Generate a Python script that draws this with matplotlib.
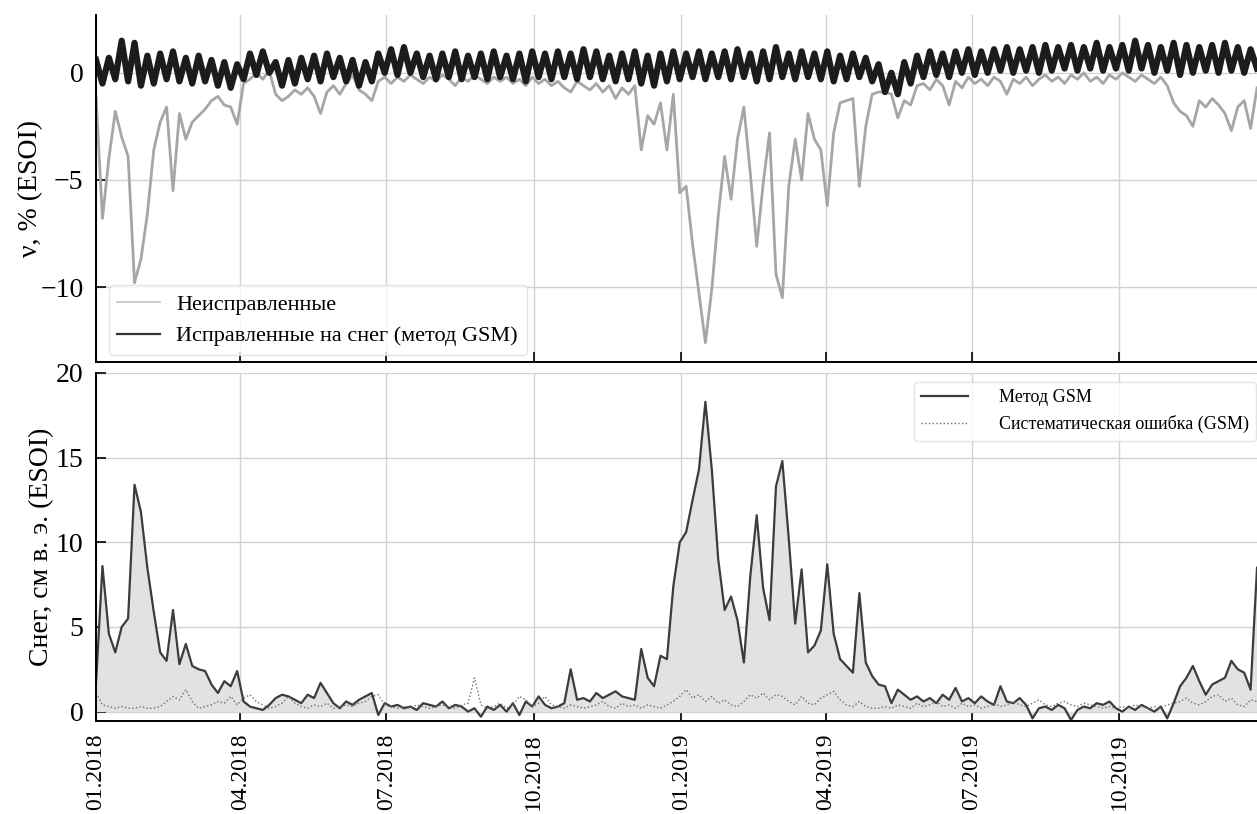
import matplotlib
matplotlib.use("Agg")
import matplotlib.pyplot as plt
import matplotlib.dates as mdates
import pandas as pd

plt.rcParams['font.family'] = ['Liberation Serif', 'DejaVu Serif']
plt.rcParams['mathtext.fontset'] = 'stix'

# 4-day sampling from 01.01.2018
dates = pd.date_range("2018-01-01", periods=182, freq="4D")

# top panel: neutron count deviation, %
uncorrected = [
    -1.1, -6.8, -4.0, -1.8, -3.0, -3.9, -9.8, -8.7, -6.6, -3.6,
    -2.3, -1.6, -5.5, -1.9, -3.1, -2.3, -2.0, -1.7, -1.3, -1.1,
    -1.5, -1.6, -2.4, -0.5, -0.3, 0.0, -0.3, 0.1, -1.0, -1.3,
    -1.1, -0.8, -1.0, -0.7, -1.1, -1.9, -0.9, -0.6, -1.0, -0.5,
    -0.1, -0.8, -1.0, -1.3, -0.4, -0.2, -0.5, -0.2, -0.4, -0.1,
    -0.3, -0.5, -0.2, -0.4, -0.1, -0.3, -0.6, -0.2, -0.4, -0.1,
    -0.3, -0.5, -0.2, -0.4, -0.2, -0.5, -0.3, -0.6, -0.2, -0.5,
    -0.3, -0.6, -0.4, -0.7, -0.9, -0.4, -0.6, -0.8, -0.5, -0.9,
    -0.6, -1.2, -0.7, -1.0, -0.6, -3.6, -2.0, -2.4, -1.4, -3.6,
    -1.0, -5.6, -5.3, -8.0, -10.3, -12.6, -10.1, -6.7, -3.9, -5.9,
    -3.1, -1.6, -4.7, -8.1, -5.2, -2.8, -9.4, -10.5, -5.3, -3.1,
    -5.0, -1.9, -3.1, -3.6, -6.2, -2.8, -1.4, -1.3, -1.2, -5.3,
    -2.5, -1.0, -0.9, -0.9, -1.0, -2.1, -1.3, -1.5, -0.6, -0.5,
    -0.8, -0.3, -0.6, -1.5, -0.4, -0.7, -0.2, -0.5, -0.3, -0.6,
    -0.2, -0.4, -1.0, -0.3, -0.5, -0.2, -0.6, -0.3, -0.1, -0.4,
    -0.2, -0.5, -0.1, -0.3, 0.0, -0.4, -0.2, -0.5, -0.1, -0.3,
    0.0, -0.2, -0.4, -0.1, -0.3, -0.5, -0.2, -0.6, -1.4, -1.8,
    -2.0, -2.5, -1.3, -1.6, -1.2, -1.5, -1.9, -2.7, -1.6, -1.3,
    -2.6, -0.7,
]
corrected = [
    0.6, -0.5, 0.7, -0.3, 1.5, -0.4, 1.4, -0.6, 0.8, -0.5,
    0.9, -0.3, 1.0, -0.4, 0.7, -0.5, 0.8, -0.4, 0.6, -0.6,
    0.5, -0.7, 0.4, -0.3, 0.9, -0.1, 1.0, 0.0, 0.5, -0.6,
    0.6, -0.5, 0.7, -0.3, 0.8, -0.4, 0.9, -0.2, 0.7, -0.4,
    0.6, -0.6, 0.5, -0.4, 0.9, 0.0, 1.1, -0.1, 1.2, 0.0,
    0.9, -0.2, 0.8, -0.3, 0.9, -0.2, 1.0, -0.3, 0.8, -0.2,
    0.9, -0.3, 1.0, -0.2, 0.8, -0.3, 0.9, -0.4, 1.0, -0.2,
    0.9, -0.3, 1.0, -0.2, 0.9, -0.3, 1.1, -0.2, 1.0, -0.3,
    0.8, -0.4, 0.9, -0.3, 1.0, -0.5, 0.8, -0.6, 0.9, -0.4,
    1.0, -0.3, 0.9, -0.2, 1.0, -0.3, 0.9, -0.2, 1.0, -0.3,
    1.1, -0.2, 0.9, -0.4, 1.0, -0.3, 1.2, -0.2, 0.9, -0.3,
    1.0, -0.2, 0.9, -0.3, 1.0, -0.4, 0.8, -0.3, 0.9, -0.2,
    0.7, -0.4, 0.4, -0.9, 0.0, -1.0, 0.5, -0.5, 0.8, -0.2,
    1.0, -0.1, 0.9, -0.2, 1.0, 0.0, 1.1, -0.1, 1.0, 0.0,
    1.1, 0.1, 1.2, 0.0, 1.1, 0.1, 1.2, 0.0, 1.3, 0.1,
    1.2, 0.2, 1.3, 0.1, 1.2, 0.2, 1.4, 0.1, 1.2, 0.2,
    1.3, 0.1, 1.5, 0.2, 1.3, 0.0, 1.2, 0.1, 1.4, -0.1,
    1.3, 0.0, 1.2, 0.1, 1.3, 0.0, 1.4, 0.1, 1.2, 0.0,
    1.1, 0.2,
]

# bottom panel: snow water equivalent, cm
snow_gsm = [
    1.7, 8.6, 4.6, 3.5, 5.0, 5.5, 13.4, 11.8, 8.5, 5.9,
    3.5, 3.0, 6.0, 2.8, 4.0, 2.7, 2.5, 2.4, 1.6, 1.1,
    1.8, 1.5, 2.4, 0.6, 0.3, 0.2, 0.1, 0.4, 0.8, 1.0,
    0.9, 0.7, 0.5, 1.0, 0.8, 1.7, 1.1, 0.5, 0.2, 0.6,
    0.4, 0.7, 0.9, 1.1, -0.2, 0.5, 0.3, 0.4, 0.2, 0.3,
    0.1, 0.5, 0.4, 0.3, 0.6, 0.2, 0.4, 0.3, 0.0, 0.2,
    -0.3, 0.3, 0.1, 0.4, 0.0, 0.5, -0.2, 0.6, 0.3, 0.9,
    0.4, 0.2, 0.3, 0.5, 2.5, 0.7, 0.8, 0.6, 1.1, 0.8,
    1.0, 1.2, 0.9, 0.8, 0.7, 3.7, 2.0, 1.5, 3.3, 3.1,
    7.4, 10.0, 10.6, 12.5, 14.3, 18.3, 14.3, 9.0, 6.0, 6.8,
    5.4, 2.9, 8.0, 11.6, 7.3, 5.4, 13.3, 14.8, 10.2, 5.2,
    8.4, 3.5, 3.9, 4.8, 8.7, 4.6, 3.1, 2.7, 2.3, 7.0,
    2.9, 2.1, 1.6, 1.5, 0.5, 1.3, 1.0, 0.7, 0.9, 0.6,
    0.8, 0.5, 1.0, 0.7, 1.4, 0.6, 0.8, 0.5, 0.9, 0.6,
    0.4, 1.5, 0.6, 0.5, 0.8, 0.4, -0.4, 0.2, 0.3, 0.1,
    0.4, 0.2, -0.5, 0.1, 0.3, 0.2, 0.5, 0.4, 0.6, 0.2,
    0.0, 0.3, 0.1, 0.4, 0.2, 0.0, 0.3, -0.4, 0.5, 1.5,
    2.0, 2.7, 1.8, 1.0, 1.6, 1.8, 2.0, 3.0, 2.5, 2.3,
    1.3, 8.5,
]
snow_error = [
    1.1, 0.4, 0.3, 0.2, 0.3, 0.2, 0.2, 0.3, 0.2, 0.2,
    0.3, 0.6, 0.9, 0.7, 1.3, 0.6, 0.2, 0.3, 0.4, 0.6,
    0.5, 0.9, 0.4, 0.8, 1.0, 0.6, 0.4, 0.2, 0.3, 0.5,
    0.9, 0.5, 0.3, 0.2, 0.4, 0.3, 0.5, 0.2, 0.3, 0.4,
    0.3, 0.5, 0.6, 0.9, 1.0, 0.4, 0.3, 0.2, 0.3, 0.2,
    0.4, 0.3, 0.2, 0.3, 0.4, 0.3, 0.2, 0.4, 0.5, 2.0,
    0.4, 0.2, 0.3, 0.5, 0.2, 0.4, 0.9, 0.7, 0.3, 0.5,
    0.9, 0.4, 0.3, 0.2, 0.4, 0.3, 0.2, 0.3, 0.4, 0.6,
    0.3, 0.2, 0.5, 0.3, 0.4, 0.2, 0.4, 0.3, 0.2, 0.4,
    0.6, 0.9, 1.3, 0.8, 1.0, 0.6, 0.9, 0.5, 0.7, 0.4,
    0.3, 0.6, 1.0, 0.8, 1.1, 0.7, 1.0, 0.9, 0.6, 0.4,
    0.9, 0.5, 0.4, 0.8, 1.0, 1.2, 0.7, 0.4, 0.3, 0.6,
    0.3, 0.2, 0.2, 0.3, 0.2, 0.4, 0.3, 0.2, 0.5, 0.3,
    0.4, 0.6, 0.3, 0.4, 0.2, 0.5, 0.3, 0.4, 0.2, 0.3,
    0.5, 0.3, 0.4, 0.6, 0.4, 0.3, 0.5, 0.7, 0.4, 0.3,
    0.5, 0.6, 0.4, 0.3, 0.5, 0.4, 0.3, 0.2, 0.3, 0.2,
    0.3, 0.2, 0.4, 0.3, 0.2, 0.3, 0.2, 0.4, 0.5, 0.6,
    0.8, 0.5, 0.4, 0.6, 0.9, 1.0, 0.6, 0.8, 0.4, 0.3,
    0.7, 0.6,
]

fig = plt.figure(figsize=(12.57, 8.14), dpi=100)
ax1 = fig.add_axes([0.0764, 0.5553, 0.93, 0.4263])
ax2 = fig.add_axes([0.0764, 0.1143, 0.93, 0.4275], sharex=ax1)

ax1.plot(dates, uncorrected, color="#a6a6aa", lw=2.0, label="Неисправленные")
ax1.plot(dates, corrected, color="#1c1c1c", lw=4.5, label="Исправленные на снег (метод GSM)")
ax1.set_ylim(-13.5, 2.7)
ax1.set_yticks([0, -5, -10])
ax1.set_ylabel("ν, % (ESOI)", fontsize=20, labelpad=-2)
leg1 = ax1.legend(loc="lower left", fontsize=16, frameon=True, fancybox=True,
                  borderaxespad=0.3, bbox_to_anchor=(0.005, 0.0),
                  handlelength=1.9, handletextpad=0.75)
leg1.get_frame().set_edgecolor("#dddddd")
leg1.get_lines()[0].set_linewidth(1.2)
leg1.get_lines()[0].set_color("#c4c4c8")
leg1.get_lines()[1].set_linewidth(1.6)
leg1.get_lines()[1].set_color("#333333")

ax2.fill_between(dates, 0, snow_gsm, color="#e2e2e4", lw=0)
ax2.plot(dates, snow_gsm, color="#3c3c3c", lw=1.6, label="Метод GSM")
ax2.plot(dates, snow_error, color="#6e6e6e", lw=1.0, ls=":", label="Систематическая ошибка (GSM)")
ax2.set_ylim(-0.55, 20)
ax2.set_yticks([0, 5, 10, 15, 20])
ax2.set_ylabel("Снег, см в. э. (ESOI)", fontsize=20, labelpad=1)
leg2 = ax2.legend(loc="upper right", fontsize=13, frameon=True, fancybox=True,
                  bbox_to_anchor=(1.0, 1.0), handlelength=2.6, handletextpad=1.7)
leg2.get_frame().set_edgecolor("#dddddd")

ax2.set_xlim(pd.Timestamp("2018-01-01"), pd.Timestamp("2019-12-31"))
ax2.xaxis.set_major_locator(mdates.MonthLocator(bymonth=[1, 4, 7, 10]))
ax2.xaxis.set_major_formatter(mdates.DateFormatter("%m.%Y"))

for ax in (ax1, ax2):
    ax.grid(True, color="#d2d2d6", lw=1.0)
    ax.set_axisbelow(True)
    ax.spines["top"].set_visible(False)
    ax.spines["right"].set_visible(False)
    ax.spines["left"].set_linewidth(1.4)
    ax.spines["bottom"].set_linewidth(1.4)
    ax.tick_params(direction="in", length=7, width=1.2, labelsize=20, pad=9)

ax1.tick_params(axis="x", labelbottom=False)
ax2.tick_params(axis="x", labelrotation=90, labelsize=17, pad=9)

fig.savefig("out.png", dpi=100)
